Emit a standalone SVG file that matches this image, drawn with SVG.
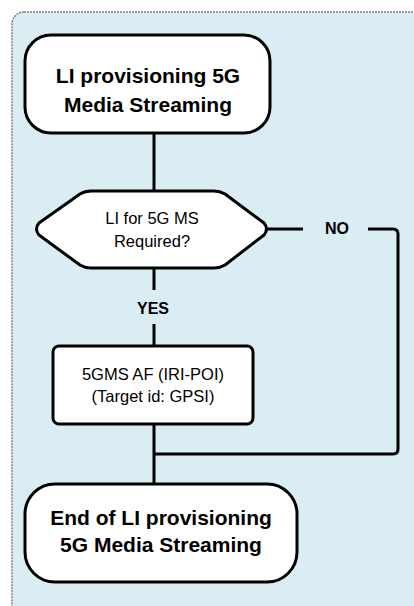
<svg xmlns="http://www.w3.org/2000/svg" width="414" height="606" viewBox="0 0 414 606">
<style>
.node{fill:#ffffff;stroke:#000000;stroke-width:3}
.conn{fill:none;stroke:#000000;stroke-width:3;stroke-linejoin:round}
.t{font-family:"Liberation Sans",Arial,sans-serif;fill:#000000;text-anchor:middle}
.b{font-weight:bold;font-size:21px}
.r{font-size:16.5px}
.lbl{font-family:"Liberation Sans",Arial,sans-serif;font-weight:bold;font-size:16px;text-anchor:middle}
</style>
<rect id="background" x="12" y="12" width="412" height="612" rx="12" fill="#DAEDF3" stroke="#7f7f7f" stroke-width="1.5" stroke-dasharray="2,1"/>
<g id="connectors">
<line class="conn" x1="154" y1="133" x2="154" y2="191"/>
<line class="conn" x1="154" y1="268" x2="154" y2="290"/>
<line class="conn" x1="154" y1="324" x2="154" y2="346"/>
<line class="conn" x1="154" y1="424" x2="154" y2="484"/>
<line class="conn" x1="267" y1="229" x2="303" y2="229"/>
<path class="conn" d="M368 229 H393 Q398 229 398 234 V449 Q398 454 393 454 H154"/>
<text class="lbl" x="153" y="314">YES</text>
<text class="lbl" x="337" y="234">NO</text>
</g>
<g id="start">
<rect class="node" x="25" y="35" width="245" height="98" rx="26"/>
<text class="t b" x="148" y="83">LI provisioning 5G</text>
<text class="t b" x="148" y="112">Media Streaming</text>
</g>
<g id="decision">
<path class="node" stroke-linejoin="round" d="M39 223 L80 194 Q85 191 91 191 L214 191 Q220 191 225 194 L264 223 Q269 229 264 235 L225 265 Q220 268 214 268 L91 268 Q85 268 80 265 L39 235 Q34 229 39 223 Z"/>
<text class="t r" x="152" y="224">LI for 5G MS</text>
<text class="t r" x="152" y="247">Required?</text>
</g>
<g id="af">
<rect class="node" x="53" y="346" width="200" height="78" rx="6"/>
<text class="t r" x="153" y="380">5GMS AF (IRI-POI)</text>
<text class="t r" x="153" y="402">(Target id: GPSI)</text>
</g>
<g id="end">
<rect class="node" x="25" y="484" width="272" height="98" rx="30"/>
<text class="t b" x="161" y="525">End of LI provisioning</text>
<text class="t b" x="161" y="552">5G Media Streaming</text>
</g>
</svg>
